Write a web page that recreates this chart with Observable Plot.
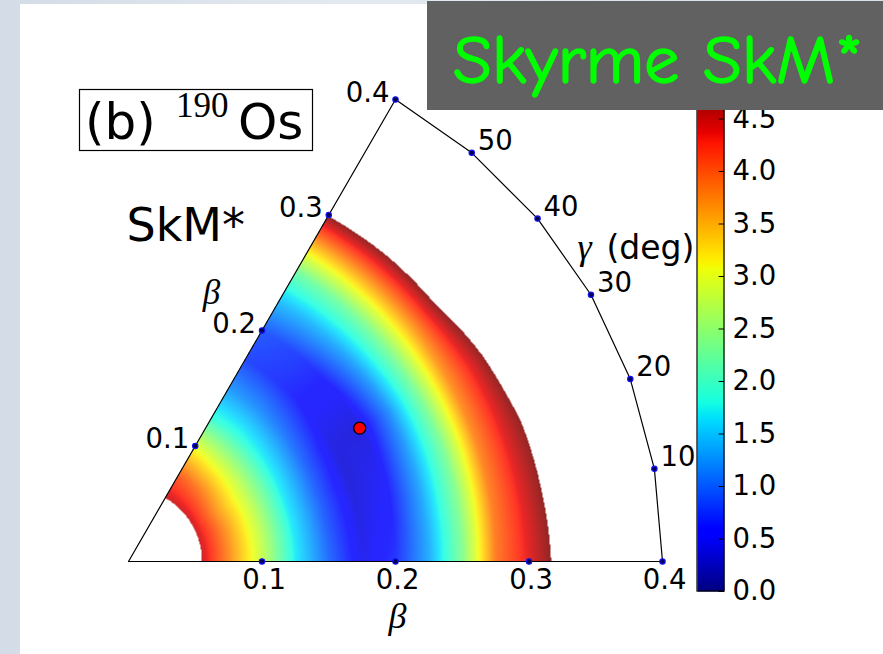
<!DOCTYPE html>
<html>
<head>
<meta charset="utf-8">
<script src="https://cdn.jsdelivr.net/npm/d3@7"></script>
<script src="https://cdn.jsdelivr.net/npm/@observablehq/plot@0.6"></script>
<style>
  body { margin: 0; background: #dbe3ec; }
  #wrap { position: relative; width: 883px; height: 654px; overflow: hidden;
          background: linear-gradient(90deg, #d3dce7, #e3e9f0 40%, #d8e0ea); }
  #panel { position: absolute; left: 20px; top: 4px; right: 0; bottom: 0; background: #fff; }
  #wrap svg { position: absolute; left: 0; top: 0; }
</style>
</head>
<body>
<div id="wrap"><div id="panel"></div></div>
<script>
// ---- data ----
const betas  = [0.055, 0.075, 0.1, 0.125, 0.15, 0.175, 0.2, 0.225, 0.25, 0.275, 0.3, 0.325];
const gammas = [0, 10, 20, 30, 40, 50, 60];
// potential energy (MeV) along each gamma ray, at the betas above
const energyGamma0  = [4.5, 3.75, 2.8, 1.7,  1.0,  0.45, 0.7,  1.35, 2.35, 3.85, 4.4,  5.0];
const energyGamma10 = [4.5, 3.75, 2.8, 1.7,  0.95, 0.4,  0.6,  1.35, 2.35, 3.8,  4.45, 5.08];
const energyGamma20 = [4.5, 3.75, 2.8, 1.7,  0.95, 0.35, 0.5,  1.3,  2.3,  3.75, 4.5,  5.12];
const energyGamma30 = [4.5, 3.7,  2.8, 1.75, 1.0,  0.4,  0.35, 1.2,  2.3,  3.7,  4.55, 5.45];
const energyGamma40 = [4.5, 3.8,  2.85,1.8,  1.1,  0.55, 0.55, 1.3,  2.3,  3.6,  4.8,  5.6];
const energyGamma50 = [4.5, 3.9,  2.9, 1.85, 1.2,  0.7,  0.75, 1.4,  2.25, 3.55, 4.8,  5.7];
const energyGamma60 = [4.5, 4.0,  3.0, 1.85, 1.25, 0.8,  0.9,  1.45, 2.2,  3.5,  4.85, 5.8];
const energyMinimum = [{beta: 0.2, gamma: 30}];
const betaTicks  = [0.1, 0.2, 0.3, 0.4];
const betaTickLabels = ["0.1", "0.2", "0.3", "0.4"];
const gammaTicks = [10, 20, 30, 40, 50];
const gammaTickLabels = ["10", "20", "30", "40", "50"];
const outlineGammas = [0, 10, 20, 30, 40, 50, 60];
const outerBeta = 0.4;
const colorTicks = [0, 0.5, 1.0, 1.5, 2.0, 2.5, 3.0, 3.5, 4.0, 4.5];
const colorMax = 4.8;

const table = [energyGamma0, energyGamma10, energyGamma20, energyGamma30,
               energyGamma40, energyGamma50, energyGamma60];

// matplotlib "jet"
function seg(t, pts) {
  for (let i = 1; i < pts.length; ++i) {
    if (t <= pts[i][0]) {
      const [t0, v0] = pts[i - 1], [t1, v1] = pts[i];
      return v0 + (v1 - v0) * (t - t0) / (t1 - t0);
    }
  }
  return pts[pts.length - 1][1];
}
function jet(t) {
  t = Math.max(0, Math.min(1, t));
  const r = seg(t, [[0,0],[0.35,0],[0.66,1],[0.89,1],[1,0.5]]);
  const g = seg(t, [[0,0],[0.125,0],[0.375,1],[0.64,1],[0.91,0],[1,0]]);
  const b = seg(t, [[0,0.5],[0.11,1],[0.34,1],[0.65,0],[1,0]]);
  return `rgb(${Math.round(r*255)},${Math.round(g*255)},${Math.round(b*255)})`;
}
const colorScale = {type: "linear", domain: [0, colorMax], interpolate: jet};

const rad = d => d * Math.PI / 180;
const px = (b, g) => b * Math.cos(rad(g));
const py = (b, g) => b * Math.sin(rad(g));

function energyAt(x, y) {
  const b = Math.hypot(x, y);
  const g = Math.atan2(y, x) * 180 / Math.PI;
  if (g < -0.01 || g > 60.01 || b < betas[0] || b > betas[betas.length - 1]) return NaN;
  const gc = Math.max(0, Math.min(60, g));
  const gi = Math.min(Math.floor(gc / 10), gammas.length - 2);
  const gt = (gc - gammas[gi]) / (gammas[gi + 1] - gammas[gi]);
  let bi = d3.bisectRight(betas, b) - 1;
  bi = Math.max(0, Math.min(bi, betas.length - 2));
  const bt = (b - betas[bi]) / (betas[bi + 1] - betas[bi]);
  const r0 = table[gi], r1 = table[gi + 1];
  const v0 = r0[bi] * (1 - bt) + r0[bi + 1] * bt;
  const v1 = r1[bi] * (1 - bt) + r1[bi + 1] * bt;
  const v = v0 * (1 - gt) + v1 * gt;
  return v > colorMax ? NaN : v;
}

const outline = [{b: 0, g: 0}, ...outlineGammas.map(g => ({b: outerBeta, g})), {b: 0, g: 0}];
const edgeDots = [
  ...betaTicks.map(b => ({b, g: 0})),
  ...betaTicks.map(b => ({b, g: 60})),
  ...gammaTicks.map(g => ({b: outerBeta, g}))
];
const sans = "DejaVu Sans, Bitstream Vera Sans, sans-serif";
const mathFont = "Liberation Serif, DejaVu Serif, serif";
const Y60 = outerBeta * Math.sin(rad(60));
const tickSize = 27.5;

const main = Plot.plot({
  width: 883, height: 654, margin: 0,
  style: {background: "transparent", overflow: "visible"},
  x: {domain: [0, outerBeta], range: [128, 662], axis: null},
  y: {domain: [0, Y60], range: [561, 99], axis: null},
  color: colorScale,
  marks: [
    Plot.raster({fill: energyAt, x1: 0, x2: outerBeta, y1: 0, y2: Y60, pixelSize: 1,
                 fillOpacity: 0.85, imageRendering: "auto"}),
    Plot.line(outline, {x: d => px(d.b, d.g), y: d => py(d.b, d.g), stroke: "black", strokeWidth: 1.2}),
    Plot.dot(edgeDots, {x: d => px(d.b, d.g), y: d => py(d.b, d.g), r: 2.7,
                        fill: "#000050", stroke: "#1010ff", strokeWidth: 1.1}),
    Plot.text(betaTicks, {x: d => d, y: 0, text: (d, i) => betaTickLabels[i], dx: 2, dy: 27,
                          lineAnchor: "bottom", textAnchor: "middle", fontSize: tickSize, fontFamily: sans, fill: "black"}),
    Plot.text(betaTicks, {x: d => px(d, 60), y: d => py(d, 60), text: (d, i) => betaTickLabels[i],
                          dx: -6, dy: 2, lineAnchor: "bottom", textAnchor: "end", fontSize: tickSize, fontFamily: sans, fill: "black"}),
    Plot.text(gammaTicks, {x: d => px(outerBeta, d), y: d => py(outerBeta, d), text: (d, i) => gammaTickLabels[i],
                           dx: 6, dy: -3, lineAnchor: "bottom", textAnchor: "start", fontSize: tickSize, fontFamily: sans, fill: "black"}),
    Plot.dot(energyMinimum, {x: d => px(d.beta, d.gamma), y: d => py(d.beta, d.gamma), r: 6,
                             fill: "#ff0000", stroke: "black", strokeWidth: 1.3}),
    // axis titles & labels (pixel offsets from frame top-left)
    Plot.text(["SkM*"], {frameAnchor: "top-left", dx: 126, dy: 240, lineAnchor: "bottom",
                         textAnchor: "start", fontSize: 46, fontFamily: sans, fill: "black"}),
    Plot.text(["β"], {frameAnchor: "top-left", dx: 211, dy: 303, lineAnchor: "bottom",
                      textAnchor: "middle", fontSize: 35, fontStyle: "italic", fontFamily: mathFont, fill: "black"}),
    Plot.text(["β"], {frameAnchor: "top-left", dx: 397, dy: 627, lineAnchor: "bottom",
                      textAnchor: "middle", fontSize: 36, fontStyle: "italic", fontFamily: mathFont, fill: "black"}),
    Plot.text(["γ"], {frameAnchor: "top-left", dx: 577, dy: 258, lineAnchor: "bottom",
                      textAnchor: "start", fontSize: 36, fontStyle: "italic", fontFamily: mathFont, fill: "black"}),
    Plot.text(["(deg)"], {frameAnchor: "top-left", dx: 606, dy: 258, lineAnchor: "bottom",
                          textAnchor: "start", fontSize: 33, fontFamily: sans, fill: "black"})
  ]
});

// boxed panel label "(b) 190Os"
{
  const svg = d3.select(main);
  const g = svg.append("g").attr("text-anchor", "start");
  g.append("rect").attr("x", 79.5).attr("y", 89.5).attr("width", 233).attr("height", 61)
    .attr("fill", "white").attr("stroke", "black").attr("stroke-width", 1.2);
  g.append("text").attr("x", 85).attr("y", 139).attr("text-anchor", "start")
    .attr("font-family", sans).attr("font-size", 50).attr("fill", "black").text("(b)");
  g.append("text").attr("x", 176).attr("y", 117).attr("text-anchor", "start")
    .attr("font-family", mathFont).attr("font-size", 35).attr("fill", "black").text("190");
  g.append("text").attr("x", 238).attr("y", 139).attr("text-anchor", "start")
    .attr("font-family", sans).attr("font-size", 50).attr("fill", "black").text("Os");
}

const bar = Plot.plot({
  width: 883, height: 654, margin: 0,
  style: {background: "transparent", overflow: "visible"},
  x: {domain: [0, 1], range: [697, 724], axis: null},
  y: {domain: [0, colorMax], range: [591, 87], axis: null},
  color: colorScale,
  marks: [
    Plot.raster({fill: (x, y) => y, x1: 0, x2: 1, y1: 0, y2: colorMax, pixelSize: 1}),
    Plot.rect([colorMax], {x1: 0, x2: 1, y1: 0, y2: d => d, fill: "none", stroke: "black", strokeWidth: 1.2}),
    Plot.ruleY(colorTicks, {x1: 0.8, x2: 1, stroke: "black", strokeWidth: 1}),
    Plot.text(colorTicks, {x: 1, y: d => d, text: d => d.toFixed(1), dx: 8, textAnchor: "start",
                           lineAnchor: "middle", fontSize: tickSize, fontFamily: sans, fill: "black"})
  ]
});

// title box "Skyrme SkM*"
{
  const svg = d3.select(bar);
  svg.append("rect").attr("x", 427).attr("y", 1).attr("width", 456).attr("height", 109).attr("fill", "#616161");
  svg.append("text").attr("x", 453).attr("y", 83).attr("text-anchor", "start")
    .attr("font-family", "Comic Sans MS, Comic Neue, DejaVu Sans, sans-serif")
    .attr("font-size", 68).attr("fill", "#00ff00")
    .attr("stroke", "#00ff00").attr("stroke-width", 1.5).attr("stroke-linejoin", "round")
    .attr("textLength", 410).attr("lengthAdjust", "spacingAndGlyphs")
    .text("Skyrme SkM*");
}

const wrap = document.getElementById("wrap");
wrap.appendChild(main);
wrap.appendChild(bar);
</script>
</body>
</html>
